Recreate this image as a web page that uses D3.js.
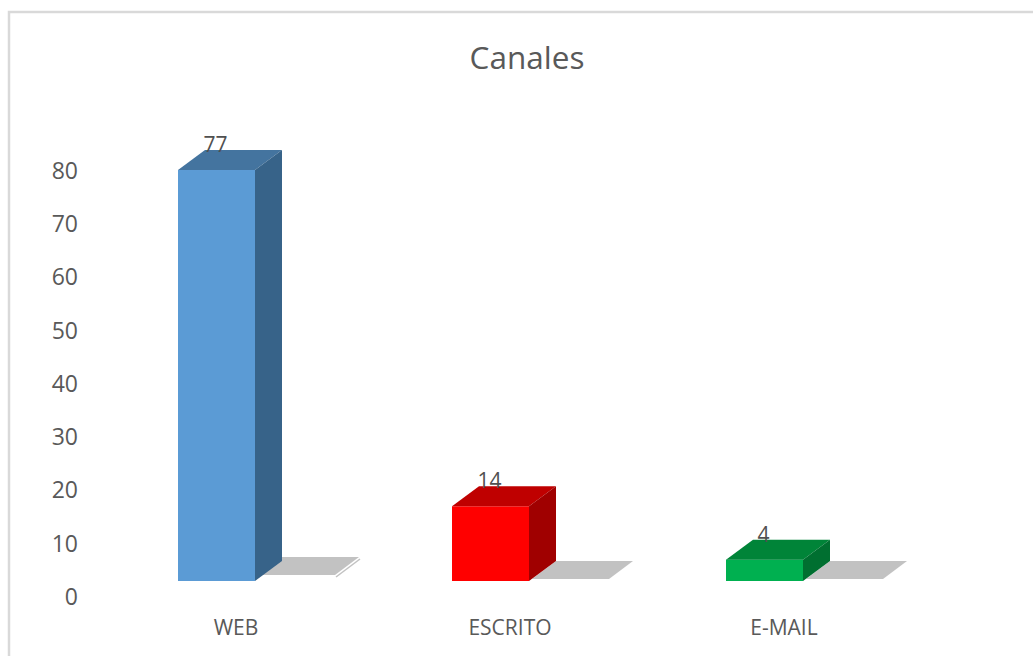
<!DOCTYPE html>
<html>
<head>
<meta charset="utf-8">
<script src="https://cdnjs.cloudflare.com/ajax/libs/d3/7.8.5/d3.min.js"></script>
<style>
  html, body { margin: 0; padding: 0; background: #fff; }
  svg { display: block; font-family: "Open Sans", sans-serif; }
</style>
</head>
<body>
<div id="chart"></div>
<script>
// chart data
const categories = ["WEB", "ESCRITO", "E-MAIL"];
const values = [77, 14, 4];
const tickValues = [0, 10, 20, 30, 40, 50, 60, 70, 80];
const faceColors = ["#5b9bd5", "#ff0000", "#00b050"];
const topColors = ["#44749f", "#bf0000", "#008438"];
const sideColors = ["#376389", "#a00000", "#006f30"];

const WIDTH = 1033;
const HEIGHT = 656;
const DEPTH_X = 27;
const DEPTH_Y = 20;
const BASE_Y = 581;   // the floor of the 3d box sits above the axis zero
const AXIS_ZERO = 596;
const AXIS_TOP = 170;

const svg = d3.select("#chart").append("svg")
  .attr("width", WIDTH)
  .attr("height", HEIGHT);

// frame, only left and top show in the crop
svg.append("path")
  .attr("d", d3.line()([[9, HEIGHT], [9, 12], [WIDTH, 12]]))
  .attr("fill", "none")
  .attr("stroke", "#d9d9d9")
  .attr("stroke-width", 2.5);

svg.append("text")
  .attr("x", 527)
  .attr("y", 69)
  .attr("text-anchor", "middle")
  .attr("font-size", 31.5)
  .attr("fill", "#595959")
  .text("Canales");

const xScale = d3.scaleBand()
  .domain(categories)
  .range([178, 803])
  .paddingInner(197 / 274);

const yAxisScale = d3.scaleLinear().domain([0, 80]).range([AXIS_ZERO, AXIS_TOP]);
const heightScale = d3.scaleLinear().domain([0, 80]).range([0, AXIS_ZERO - AXIS_TOP + 1]);

const yAxis = svg.append("g")
  .attr("transform", "translate(78,1)")
  .call(d3.axisLeft(yAxisScale).tickValues(tickValues).tickSize(0).tickPadding(0));
yAxis.select(".domain").remove();
yAxis.selectAll("text")
  .attr("font-family", "'Open Sans', sans-serif")
  .attr("font-size", 23)
  .attr("fill", "#595959");

const bars = categories.map((c, i) => ({
  name: c,
  value: values[i],
  x: xScale(c),
  w: xScale.bandwidth(),
  h: heightScale(values[i]),
  i: i
}));

const poly = pts => d3.line()(pts) + "Z";

// floor shadows
const shadowY = [575, 579, 579];
const shadows = svg.append("g");
shadows.selectAll("path.shadow")
  .data(bars)
  .enter().append("path")
  .attr("class", "shadow")
  .attr("fill", "#c2c2c2")
  .attr("d", d => {
    const x0 = d.x + d.w + 3;
    const y0 = shadowY[d.i];
    const w = 77;
    const dx = 24;
    const dy = 18;
    return poly([[x0, y0], [x0 + w, y0], [x0 + w + dx, y0 - dy], [x0 + dx, y0 - dy]]);
  });

// thin line next to the first shadow
shadows.append("path")
  .attr("d", d3.line()([[bars[0].x + bars[0].w + 81, 577], [bars[0].x + bars[0].w + 105, 559]]))
  .attr("stroke", "#c2c2c2")
  .attr("stroke-width", 1.5)
  .attr("fill", "none");

const barG = svg.selectAll("g.bar")
  .data(bars)
  .enter().append("g")
  .attr("class", "bar");

barG.append("rect")
  .attr("x", d => d.x)
  .attr("y", d => BASE_Y - d.h)
  .attr("width", d => d.w)
  .attr("height", d => d.h)
  .attr("fill", d => faceColors[d.i]);

barG.append("path")
  .attr("fill", d => topColors[d.i])
  .attr("d", d => {
    const y = BASE_Y - d.h;
    return poly([[d.x, y], [d.x + d.w, y], [d.x + d.w + DEPTH_X, y - DEPTH_Y], [d.x + DEPTH_X, y - DEPTH_Y]]);
  });

barG.append("path")
  .attr("fill", d => sideColors[d.i])
  .attr("d", d => {
    const xr = d.x + d.w;
    const y = BASE_Y - d.h;
    return poly([[xr, y], [xr + DEPTH_X, y - DEPTH_Y], [xr + DEPTH_X, BASE_Y - DEPTH_Y], [xr, BASE_Y]]);
  });

// data labels
svg.selectAll("text.value")
  .data(bars)
  .enter().append("text")
  .attr("class", "value")
  .attr("x", d => d.x + d.w / 2 - 1)
  .attr("y", d => BASE_Y - d.h - DEPTH_Y + 2)
  .attr("text-anchor", "middle")
  .attr("font-size", 21)
  .attr("fill", "#505050")
  .text(d => d.value);

// category labels
svg.selectAll("text.cat")
  .data(bars)
  .enter().append("text")
  .attr("class", "cat")
  .attr("x", d => d.x + d.w / 2 + 19.5)
  .attr("y", 635)
  .attr("text-anchor", "middle")
  .attr("font-size", 21)
  .attr("fill", "#595959")
  .text(d => d.name);
</script>
</body>
</html>
